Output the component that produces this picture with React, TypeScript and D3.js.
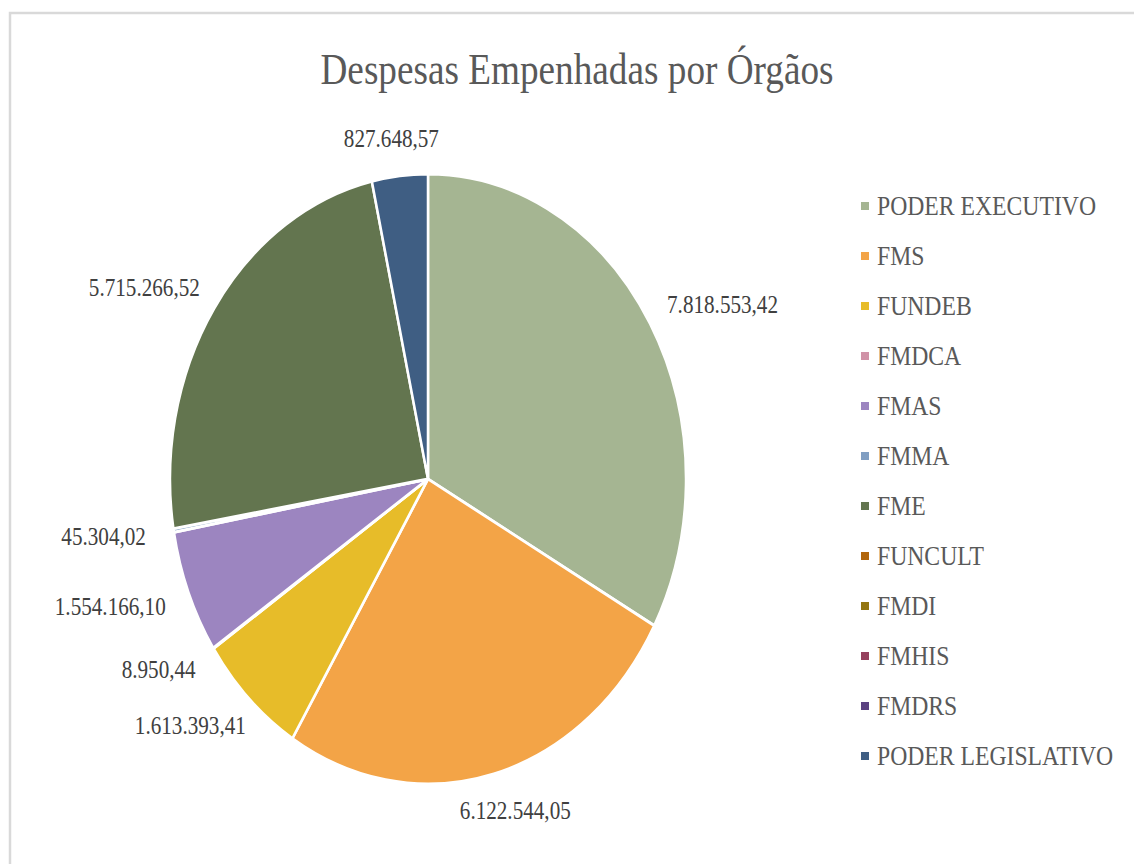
import React, { useMemo } from 'react';
import * as d3 from 'd3';

const title = 'Despesas Empenhadas por Órgãos';
const categories = [
  'PODER EXECUTIVO', 'FMS', 'FUNDEB', 'FMDCA', 'FMAS', 'FMMA',
  'FME', 'FUNCULT', 'FMDI', 'FMHIS', 'FMDRS', 'PODER LEGISLATIVO',
];
const values = [
  7818553.42, 6122544.05, 1613393.41, 8950.44, 1554166.1, 45304.02,
  5715266.52, 0, 0, 0, 0, 827648.57,
];
const colors = [
  '#A5B592', '#F3A447', '#E7BC29', '#D092A7', '#9C85C0', '#809EC2',
  '#63754F', '#B1650B', '#937510', '#95405D', '#5B4281', '#3F5E83',
];

const W = 1134;
const H = 864;
const SX = 0.846; // horizontal squeeze of the whole chart
const FONT = "'Liberation Serif', 'Times New Roman', Times, serif";
const LABEL_FS = 25;
const LEGEND_FS = 28;
const TITLE_FS = 44;

const ptBR = d3.formatLocale({
  decimal: ',',
  thousands: '.',
  grouping: [3],
  currency: ['R$', ''],
});
const fmt = ptBR.format(',.2f');

function measure(text: string, font: string): number {
  const ctx = document.createElement('canvas').getContext('2d');
  if (!ctx) return text.length * 12;
  ctx.font = font;
  return ctx.measureText(text).width;
}

export default function App() {
  const cx = 428 / SX;
  const cy = 479;
  const r = 305;
  const labelR = r + 34;

  const arcs = useMemo(
    () => d3.pie<number>().sort(null).value((d) => d)(values),
    []
  );
  const arcGen = d3.arc<d3.PieArcDatum<number>>().innerRadius(0).outerRadius(r);

  const labels = arcs
    .map((a, i) => {
      if (a.value <= 0) return null;
      const text = fmt(a.value);
      const w = measure(text, `${LABEL_FS}px ${FONT}`);
      const h = LABEL_FS;
      const mid = (a.startAngle + a.endAngle) / 2;
      const s = Math.sin(mid);
      const c = Math.cos(mid);
      const x = cx + labelR * s + (w / 2) * s;
      const y = cy - labelR * c - h * 0.15 * c;
      return { text, x, y, i };
    })
    .filter(Boolean) as { text: string; x: number; y: number; i: number }[];

  const legendX = 861 / SX;
  const legendTextX = 877 / SX;
  const legendY = d3.scaleLinear().domain([0, 1]).range([215, 265]);

  return (
    <svg
      width={W}
      height={H}
      style={{ position: 'absolute', left: 0, top: 0, background: '#fff' }}
    >
      <rect x={0} y={0} width={W} height={H} fill="#ffffff" />
      <rect
        x={10}
        y={13}
        width={W + 100}
        height={H + 100}
        fill="none"
        stroke="#D9D9D9"
        strokeWidth={2.5}
      />
      <g transform={`scale(${SX},1)`}>
        <text
          x={577 / SX}
          y={84}
          textAnchor="middle"
          fontFamily={FONT}
          fontSize={TITLE_FS}
          fill="#595959"
        >
          {title}
        </text>
        <g transform={`translate(${cx},${cy})`}>
          {arcs.map((a, i) =>
            a.value > 0 ? (
              <path
                key={categories[i]}
                d={arcGen(a) || ''}
                fill={colors[i]}
                stroke="#ffffff"
                strokeWidth={3}
                strokeLinejoin="round"
              />
            ) : null
          )}
        </g>
        {labels.map((l) => (
          <text
            key={'lbl' + l.i}
            x={l.x}
            y={l.y + LABEL_FS * 0.34}
            textAnchor="middle"
            fontFamily={FONT}
            fontSize={LABEL_FS}
            fill="#404040"
          >
            {l.text}
          </text>
        ))}
        {categories.map((name, i) => (
          <g key={'leg' + name}>
            <rect
              x={legendX}
              y={legendY(i) - 13}
              width={8 / SX}
              height={8}
              fill={colors[i]}
            />
            <text
              x={legendTextX}
              y={legendY(i)}
              fontFamily={FONT}
              fontSize={LEGEND_FS}
              fill="#595959"
            >
              {name}
            </text>
          </g>
        ))}
      </g>
    </svg>
  );
}
